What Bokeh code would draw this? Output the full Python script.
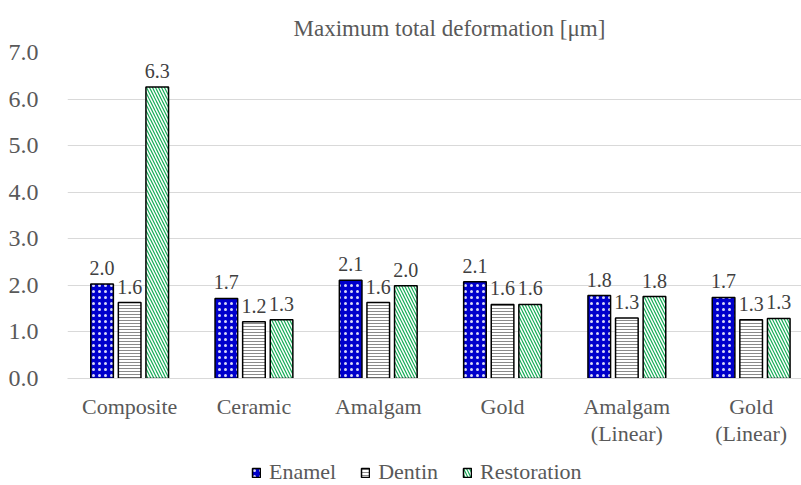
from bokeh.plotting import figure
from bokeh.models import (Range1d, FixedTicker, NumeralTickFormatter, ColumnDataSource,
                          Legend, LegendItem)
from bokeh.layouts import column
from bokeh.transform import dodge
from bokeh.core.properties import value
from bokeh.embed import file_html
from bokeh.resources import INLINE

# ---- data ----
categories = ["Composite", "Ceramic", "Amalgam", "Gold", "Amalgam\n(Linear)", "Gold\n(Linear)"]
series_names = ["Enamel", "Dentin", "Restoration"]
enamel = [2.03, 1.72, 2.11, 2.08, 1.78, 1.74]
dentin = [1.63, 1.22, 1.63, 1.59, 1.30, 1.26]
restoration = [6.26, 1.26, 1.99, 1.59, 1.76, 1.29]
y_ticks = [0, 1, 2, 3, 4, 5, 6, 7]

FONT = "Liberation Serif"
TXT = "#595959"

xpos = [i + 0.5 for i in range(len(categories))]

p = figure(width=801, height=449, x_range=Range1d(0, 5.905), y_range=Range1d(0, 7),
           output_backend="svg", toolbar_location=None,
           min_border_left=67, min_border_right=0, min_border_top=52, min_border_bottom=68)

p.title.text = "Maximum total deformation [μm]"
p.title.text_font = FONT
p.title.text_font_size = "23px"
p.title.text_font_style = "normal"
p.title.text_color = TXT
p.title.text_line_height = 1.0
p.title.align = "left"
p.title.offset = 226
p.title.standoff = 23

styles = [
    dict(fill_color="#0000cc", hatch_pattern="dot", hatch_color="white", hatch_scale=6, hatch_weight=1, hatch_alpha=0.85),
    dict(fill_color="white", hatch_pattern="horizontal_line", hatch_color="#8a8a8a", hatch_scale=3, hatch_weight=1),
    dict(fill_color="#17ad58", hatch_pattern="left_diagonal_line", hatch_color="white", hatch_scale=6, hatch_weight=1.5),
]
offsets = [-0.222, 0.0, 0.222]
values = [enamel, dentin, restoration]

legend_fig = figure(width=801, height=36, x_range=Range1d(0, 1), y_range=Range1d(0, 1),
                    output_backend="svg", toolbar_location=None,
                    min_border_left=0, min_border_right=0, min_border_top=0, min_border_bottom=0)

items = []
for name, vals, off, st in zip(series_names, values, offsets, styles):
    src = ColumnDataSource(dict(x=xpos, top=vals, label=[f"{v:.1f}" for v in vals]))
    p.vbar(x=dodge("x", off, range=p.x_range), top="top", bottom=0, width=0.182, source=src,
           line_color="black", line_width=1.5, **st)
    p.text(x=dodge("x", off, range=p.x_range), y="top", text="label", source=src,
           text_align="center", text_baseline="bottom", y_offset=-9,
           text_font=value(FONT), text_font_size=value("20px"), text_color="#404040")
    # legend swatch renderer (placed outside the strip, only its legend glyph shows)
    lr = legend_fig.vbar(x=[5], top=[-2], bottom=[-3], width=0.1, line_color="black", line_width=1.5, **st)
    items.append(LegendItem(label=name, renderers=[lr]))

legend = Legend(items=items, orientation="horizontal", location=(184, 0),
                label_text_font=FONT, label_text_font_size="22px", label_text_color=TXT,
                glyph_width=10, glyph_height=11, spacing=24, label_standoff=8,
                border_line_color=None, background_fill_alpha=0, margin=0, padding=2)
legend_fig.add_layout(legend, "center")
legend_fig.axis.visible = False
legend_fig.grid.visible = False
legend_fig.outline_line_color = None

# axes
p.xaxis.ticker = FixedTicker(ticks=xpos)
p.xaxis.major_label_overrides = {x: c for x, c in zip(xpos, categories)}
p.xaxis.major_tick_line_color = None
p.xaxis.minor_tick_line_color = None
p.xaxis.axis_line_color = "#d9d9d9"
p.xaxis.major_label_text_font = FONT
p.xaxis.major_label_text_font_size = "22px"
p.xaxis.major_label_text_color = TXT
p.xaxis.major_label_text_line_height = 1.1
p.xaxis.major_label_standoff = 9

p.yaxis.ticker = FixedTicker(ticks=y_ticks)
p.yaxis.formatter = NumeralTickFormatter(format="0.0")
p.yaxis.major_tick_line_color = None
p.yaxis.minor_tick_line_color = None
p.yaxis.axis_line_color = None
p.yaxis.major_label_text_font = FONT
p.yaxis.major_label_text_font_size = "24px"
p.yaxis.major_label_text_color = TXT
p.yaxis.major_label_standoff = 23

p.xgrid.visible = False
p.ygrid.grid_line_color = "#d9d9d9"
p.ygrid.grid_line_width = 1
p.outline_line_color = None
p.background_fill_color = "white"
p.border_fill_color = "white"

layout = column(p, legend_fig, spacing=0)
open("out.html", "w").write(file_html(layout, INLINE))
